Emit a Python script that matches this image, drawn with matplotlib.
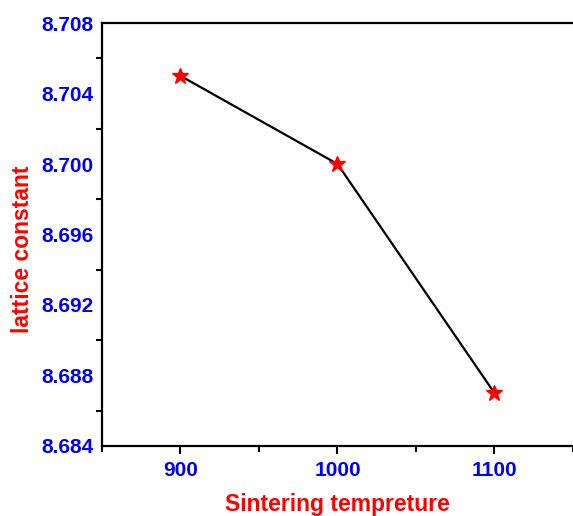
import matplotlib.pyplot as plt
from matplotlib.ticker import MultipleLocator

plt.rcParams['font.family'] = ['Liberation Sans', 'DejaVu Sans']

# sintering temperature vs lattice constant
temps = [900, 1000, 1100]
lattice = [8.705, 8.700, 8.687]

fig = plt.figure(figsize=(5.73, 5.16), dpi=100)
ax = fig.add_axes([0.178, 0.1357, 0.822, 0.8197])

ax.plot(temps, lattice, color='black', lw=1.6, zorder=1)
ax.plot(temps, lattice, ls='none', marker='*', ms=12, color='red', zorder=2)

ax.set_xlim(850, 1150)
ax.set_ylim(8.684, 8.708)
ax.xaxis.set_major_locator(MultipleLocator(100))
ax.xaxis.set_minor_locator(MultipleLocator(50))
ax.yaxis.set_major_locator(MultipleLocator(0.004))
ax.yaxis.set_minor_locator(MultipleLocator(0.002))
ax.yaxis.set_major_formatter(plt.FormatStrFormatter('%.3f'))

for s in ax.spines.values():
    s.set_linewidth(1.6)
ax.spines['right'].set_linewidth(0.6)
ax.spines['right'].set_color('#cccccc')

ax.tick_params(which='both', direction='out', width=1.5, top=False, right=False)
ax.tick_params(axis='x', which='major', length=6, pad=5)
ax.tick_params(axis='x', which='minor', length=4)
ax.tick_params(axis='y', which='major', length=0, pad=6)
ax.tick_params(axis='y', which='minor', length=4)
for lab in ax.get_xticklabels() + ax.get_yticklabels():
    lab.set_color('blue')
    lab.set_fontweight('bold')
    lab.set_fontsize(15)

ax.set_xlabel('Sintering tempreture', color='red', fontweight='bold', fontsize=16.5, labelpad=9)
ax.set_ylabel('lattice constant', color='red', fontweight='bold', fontsize=16.5)
ax.yaxis.set_label_coords(-0.145, 0.466)

fig.savefig('out.png', dpi=100)
